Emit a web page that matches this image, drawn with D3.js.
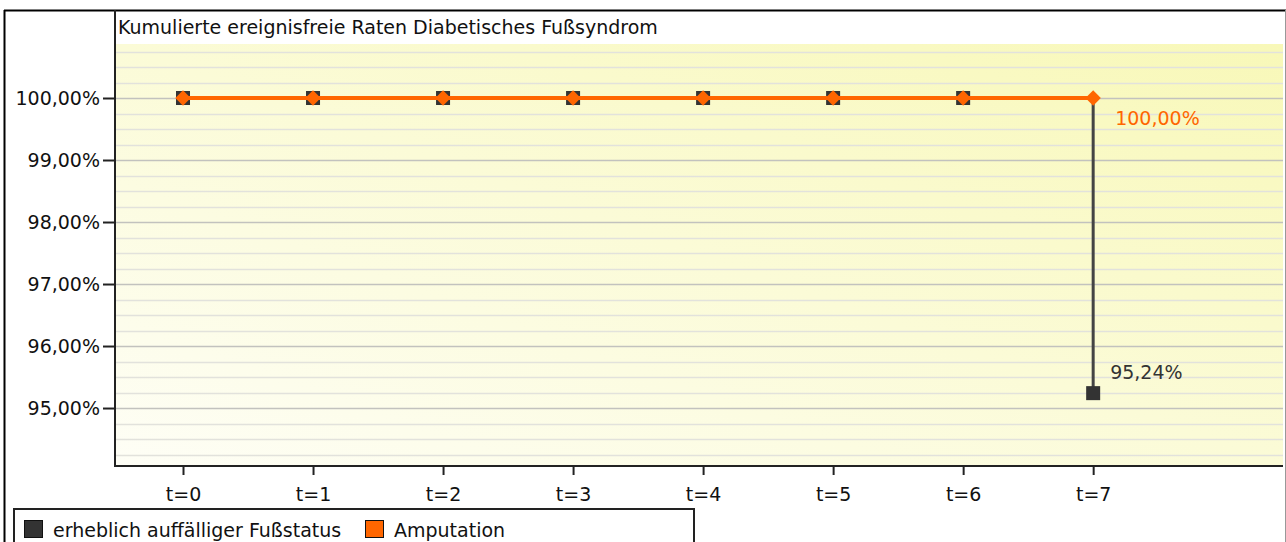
<!DOCTYPE html>
<html><head><meta charset="utf-8">
<script src="https://cdn.jsdelivr.net/npm/d3@7"></script>
<style>
html,body{margin:0;padding:0;background:#fff;}
svg{display:block;}
text{font-family:Tahoma,"DejaVu Sans",Verdana,sans-serif;}
</style></head>
<body>
<svg id="c" width="1286" height="542"></svg>
<script>
const title = "Kumulierte ereignisfreie Raten Diabetisches Fußsyndrom";
const categories = ["t=0","t=1","t=2","t=3","t=4","t=5","t=6","t=7"];
const seriesNames = ["erheblich auffälliger Fußstatus","Amputation"];
const fussstatus = [100,100,100,100,100,100,100,95.24];
const amputation = [100,100,100,100,100,100,100,100];
const yTicks = [95,96,97,98,99,100];
const colors = ["#333333","#ff6600"];

const FS = 19;
const svg = d3.select("#c");
const L=115, R=1283, T=44, B=466;
const x = d3.scaleLinear().domain([-0.523, 8.46]).range([L,R]);
const y = d3.scaleLinear().domain([94.065, 100.871]).range([B,T]);

const fmt = v => d3.format(".2f")(v).replace(".",",")+"%";

// gradient
const defs = svg.append("defs");
const g = defs.append("linearGradient").attr("id","bg").attr("x1","0%").attr("y1","100%").attr("x2","100%").attr("y2","0%");
g.append("stop").attr("offset","0%").attr("stop-color","#fefef6");
g.append("stop").attr("offset","100%").attr("stop-color","#f8f8b8");

// outer frame
svg.append("line").attr("x1",4).attr("x2",1286).attr("y1",10.5).attr("y2",10.5).attr("stroke","#000").attr("stroke-width",2);
svg.append("line").attr("x1",4.5).attr("x2",4.5).attr("y1",10).attr("y2",542).attr("stroke","#000").attr("stroke-width",2);
svg.append("line").attr("x1",1285.5).attr("x2",1285.5).attr("y1",10).attr("y2",542).attr("stroke","#999").attr("stroke-width",1);

svg.append("rect").attr("x",L).attr("y",T).attr("width",R-L).attr("height",B-T).attr("fill","url(#bg)");

// minor gridlines
const minor = d3.range(94.25, 100.80, 0.25).filter(v=>Math.abs(v-Math.round(v))>0.01);
svg.append("g").selectAll("line").data(minor).join("line")
  .attr("x1",L).attr("x2",R).attr("y1",d=>Math.round(y(d))+0.5).attr("y2",d=>Math.round(y(d))+0.5)
  .attr("stroke","#e2e2dc").attr("stroke-width",1.5);
svg.append("g").selectAll("line").data(yTicks).join("line")
  .attr("x1",L).attr("x2",R).attr("y1",d=>Math.round(y(d))+0.5).attr("y2",d=>Math.round(y(d))+0.5)
  .attr("stroke","#c2c2be").attr("stroke-width",1.5);

// plot left border from top frame
svg.append("line").attr("x1",L).attr("x2",L).attr("y1",10).attr("y2",B+1).attr("stroke","#222").attr("stroke-width",2);

// axes
const yAxis = d3.axisLeft(y).tickValues(yTicks).tickFormat(fmt).tickSize(12).tickPadding(3);
const ya = svg.append("g").attr("transform",`translate(${L},0)`).call(yAxis);
ya.select(".domain").remove();
ya.selectAll("line").attr("stroke","#222").attr("stroke-width",2);
ya.selectAll("text").attr("font-size",FS).attr("fill","#111");

const xAxis = d3.axisBottom(x).tickValues(d3.range(categories.length)).tickFormat(i=>categories[i]).tickSize(9);
const xa = svg.append("g").attr("transform",`translate(0,${B})`).call(xAxis);
xa.select(".domain").remove();
xa.selectAll("line").attr("stroke","#222").attr("stroke-width",2);
xa.selectAll("text").attr("font-size",FS).attr("fill","#111").attr("y",35).attr("dy",0);
svg.append("line").attr("x1",L).attr("x2",R).attr("y1",B).attr("y2",B).attr("stroke","#222").attr("stroke-width",2);

// title
svg.append("text").attr("x",118).attr("y",34).attr("font-size",FS).attr("fill","#111").text(title);

// series lines (step)
const line = d3.line().x((d,i)=>x(i)).y(d=>y(d)).curve(d3.curveStepAfter);
svg.append("path").datum(fussstatus).attr("d",line).attr("fill","none").attr("stroke","#444").attr("stroke-width",3);
svg.append("g").selectAll("rect").data(fussstatus).join("rect")
  .attr("x",(d,i)=>x(i)-7).attr("y",d=>y(d)-7).attr("width",14).attr("height",14).attr("fill",colors[0]);

svg.append("path").datum(amputation).attr("d",line).attr("fill","none").attr("stroke",colors[1]).attr("stroke-width",4);
const dia = d3.symbol().type(d3.symbolDiamond2).size(150);
svg.append("g").selectAll("path").data(amputation).join("path")
  .attr("transform",(d,i)=>`translate(${x(i)},${y(d)})`).attr("d",dia).attr("fill",colors[1]);

// value labels at last point
const li = categories.length-1;
svg.append("text").attr("x",x(li)+22).attr("y",y(amputation[li])+27).attr("font-size",FS).attr("fill",colors[1]).text(fmt(amputation[li]));
svg.append("text").attr("x",x(li)+17).attr("y",y(fussstatus[li])-14).attr("font-size",FS).attr("fill","#333").text(fmt(fussstatus[li]));

// legend
svg.append("rect").attr("x",14).attr("y",509).attr("width",680).attr("height",50).attr("fill","#fff").attr("stroke","#222").attr("stroke-width",2);
const lx = [24,365];
seriesNames.forEach((n,i)=>{
  svg.append("rect").attr("x",lx[i]+0.5).attr("y",520.5).attr("width",18).attr("height",17).attr("fill",colors[i]).attr("stroke","#111").attr("stroke-width",1);
  svg.append("text").attr("x",lx[i]+29).attr("y",537).attr("font-size",FS).attr("fill","#111").text(n);
});
</script>
</body></html>
